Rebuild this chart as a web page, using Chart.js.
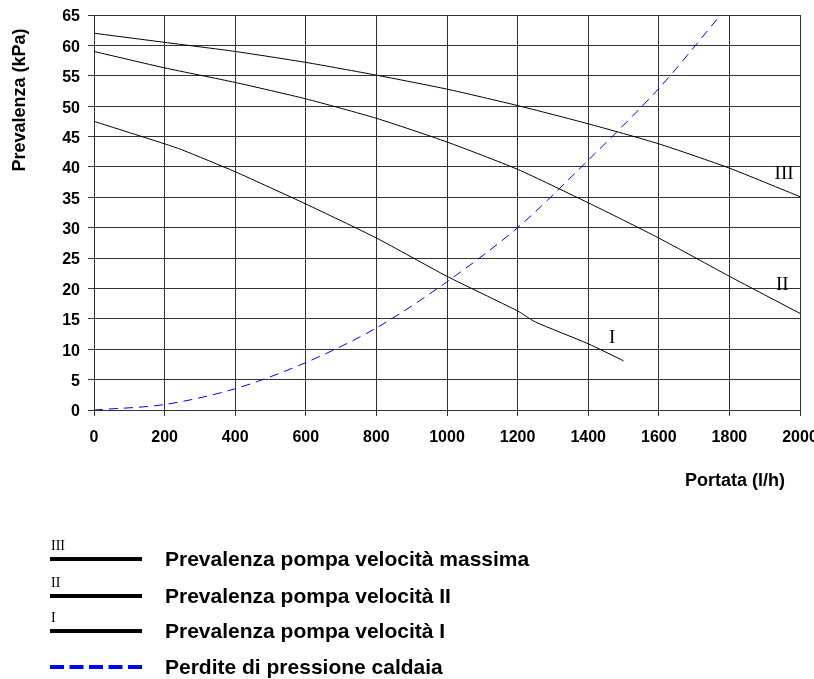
<!DOCTYPE html>
<html><head><meta charset="utf-8">
<script src="https://cdn.jsdelivr.net/npm/chart.js@4"></script>
<style>html,body{margin:0;padding:0;background:#fff}#wrap{width:814px;height:679px;position:relative}</style>
</head><body><div id="wrap"><canvas id="c" width="814" height="679"></canvas></div>
<script>
const flowPump = [0, 200, 400, 600, 800, 1000, 1200, 1400, 1600, 1800, 2000];
const headMax = [62, 60.5, 59, 57.2, 55.1, 52.8, 50.1, 47.1, 43.8, 39.8, 35.1];
const headII = [59, 56.3, 53.9, 51.2, 48, 44.1, 39.6, 34.1, 28.3, 22, 15.9];
const flowI = [0, 200, 250, 400, 600, 800, 1000, 1200, 1250, 1400, 1500];
const headI = [47.5, 43.8, 42.8, 39.2, 33.9, 28.3, 22, 16.3, 14.5, 10.9, 8.1];
const flowBoiler = [0, 200, 400, 600, 800, 1000, 1200, 1400, 1600, 1775];
const lossBoiler = [0, 0.9, 3.5, 7.8, 13.5, 21.1, 30, 41.1, 52.9, 65];
const seriesNames = ['Prevalenza pompa velocità massima', 'Prevalenza pompa velocità II', 'Prevalenza pompa velocità I', 'Perdite di pressione caldaia'];
const curveTags = ['III', 'II', 'I'];
const xTitle = 'Portata (l/h)';
const yTitle = 'Prevalenza (kPa)';

const pts = (xs, ys) => xs.map((x, i) => ({x, y: ys[i]}));
const SANS = '"Liberation Sans", Arial, sans-serif';
const SERIF = '"Liberation Serif", "Times New Roman", serif';

const overlay = {
  id: 'overlay',
  afterDraw(chart) {
    const ctx = chart.ctx;
    const xs = chart.scales.x, ys = chart.scales.y;
    ctx.save();
    ctx.fillStyle = '#000';
    // axis titles
    ctx.font = 'bold 18px ' + SANS;
    ctx.textAlign = 'center'; ctx.textBaseline = 'middle';
    ctx.fillText(xTitle, 735, 481);
    ctx.save();
    ctx.translate(20, 100);
    ctx.rotate(-Math.PI / 2);
    ctx.fillText(yTitle, 0, 0);
    ctx.restore();
    // curve tags
    ctx.font = '19px ' + SERIF;
    ctx.fillText(curveTags[0], xs.getPixelForValue(1955), ys.getPixelForValue(38.9));
    ctx.fillText(curveTags[1], xs.getPixelForValue(1950), ys.getPixelForValue(20.5));
    ctx.fillText(curveTags[2], xs.getPixelForValue(1468), ys.getPixelForValue(11.8));
    // legend
    const rows = [559, 596, 631, 667];
    const x0 = 50, x1 = 142;
    for (let i = 0; i < 4; i++) {
      const y = rows[i];
      ctx.beginPath();
      if (i < 3) {
        ctx.strokeStyle = '#000'; ctx.lineWidth = 4; ctx.setLineDash([]);
      } else {
        ctx.strokeStyle = '#0000ff'; ctx.lineWidth = 4; ctx.setLineDash([14, 5.5]);
      }
      ctx.moveTo(x0, y); ctx.lineTo(x1, y); ctx.stroke();
      ctx.setLineDash([]);
      if (i < 3) {
        ctx.font = '14px ' + SERIF;
        ctx.textAlign = 'left'; ctx.textBaseline = 'alphabetic';
        ctx.fillText(curveTags[i], 51, y - 9);
      }
      ctx.font = 'bold 21px ' + SANS;
      ctx.textAlign = 'left'; ctx.textBaseline = 'middle';
      ctx.fillText(seriesNames[i], 165, y + 1);
    }
    ctx.restore();
  }
};

new Chart(document.getElementById('c'), {
  type: 'line',
  data: {
    datasets: [
      {label: seriesNames[0], data: pts(flowPump, headMax), borderColor: '#000', borderWidth: 1, pointRadius: 0, tension: 0.2},
      {label: seriesNames[1], data: pts(flowPump, headII), borderColor: '#000', borderWidth: 1, pointRadius: 0, tension: 0.2},
      {label: seriesNames[2], data: pts(flowI, headI), borderColor: '#000', borderWidth: 1, pointRadius: 0, tension: 0.2},
      {label: seriesNames[3], data: pts(flowBoiler, lossBoiler), borderColor: '#0000ff', borderWidth: 1, borderDash: [9, 6], pointRadius: 0, tension: 0.3}
    ]
  },
  options: {
    responsive: false, animation: false,
    layout: {padding: {left: 0, top: 15, right: 14, bottom: 179}},
    plugins: {legend: {display: false}, tooltip: {enabled: false}},
    scales: {
      x: {
        type: 'linear', min: 0, max: 2000,
        afterFit: s => { s.height = 90; s.paddingLeft = 0; s.paddingRight = 0; },
        grid: {color: '#333', lineWidth: 1, tickLength: 6, drawTicks: true},
        border: {color: '#333'},
        ticks: {stepSize: 200, color: '#000', font: {family: SANS, size: 16, weight: 'bold'}, padding: 12, maxRotation: 0, autoSkip: false, callback: v => String(v)},
        title: {display: false}
      },
      y: {
        min: 0, max: 65,
        afterFit: s => { s.width = 94; s.paddingTop = 0; s.paddingBottom = 0; },
        grid: {color: '#333', lineWidth: 1, tickLength: 6},
        border: {color: '#333'},
        ticks: {stepSize: 5, color: '#000', font: {family: SANS, size: 16, weight: 'bold'}, padding: 8, labelOffset: 2, callback: v => String(v)},
        title: {display: false}
      }
    }
  },
  plugins: [overlay]
});
</script></body></html>
